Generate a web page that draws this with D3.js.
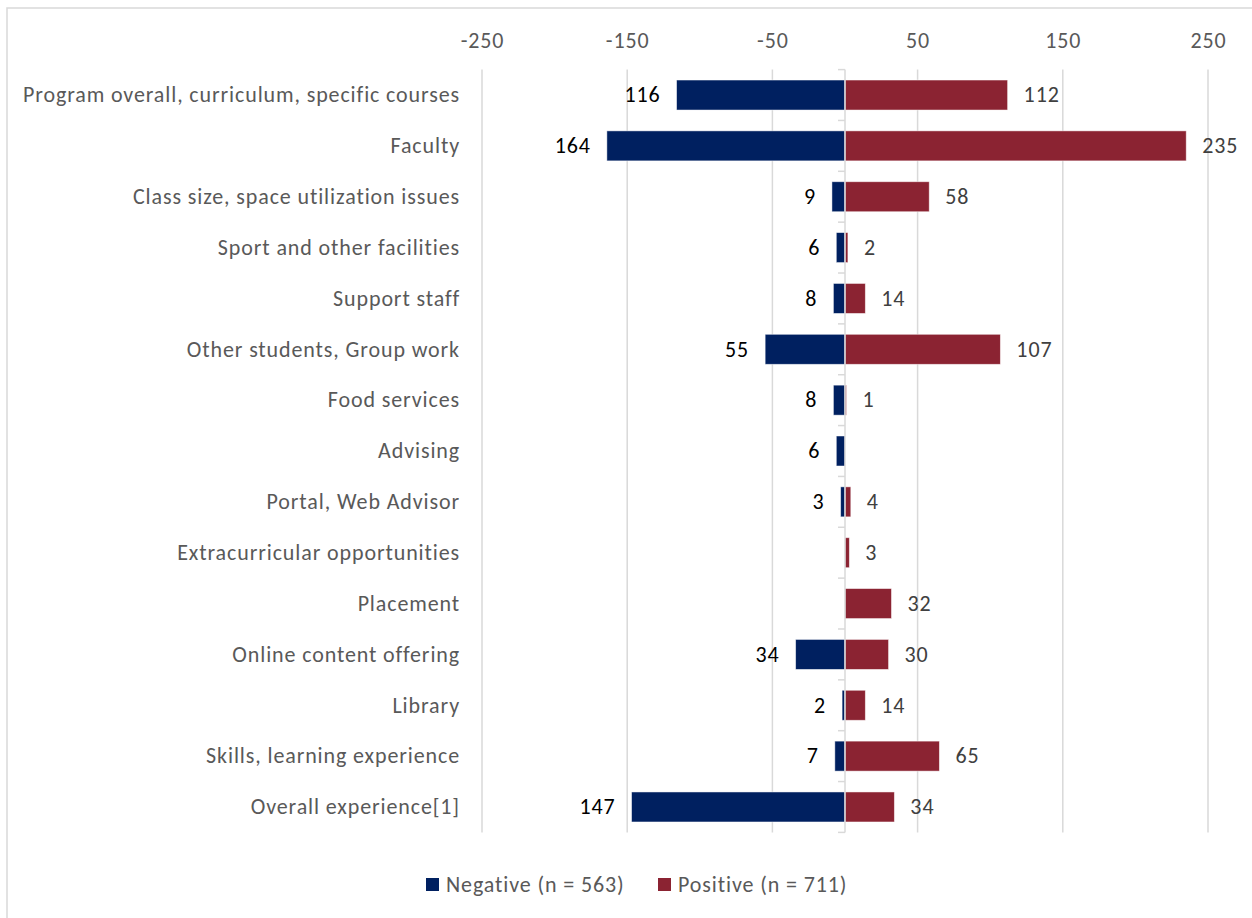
<!DOCTYPE html>
<html>
<head>
<meta charset="utf-8">
<script src="https://cdn.jsdelivr.net/npm/d3@7"></script>
<style>
  html, body { margin: 0; padding: 0; background: #fff; }
  svg { display: block; font-family: Carlito, Lato, "Open Sans", sans-serif; }
  .lbl { letter-spacing: 0.88px; }
</style>
</head>
<body>
<svg id="chart" width="1252" height="918"></svg>
<script>
// Comment themes by category: counts of negative and positive remarks
const categories = [
  "Program overall, curriculum, specific courses",
  "Faculty",
  "Class size, space utilization issues",
  "Sport and other facilities",
  "Support staff",
  "Other students, Group work",
  "Food services",
  "Advising",
  "Portal, Web Advisor",
  "Extracurricular opportunities",
  "Placement",
  "Online content offering",
  "Library",
  "Skills, learning experience",
  "Overall experience[1]"
];
const negativeCounts = [116, 164, 9, 6, 8, 55, 8, 6, 3, null, null, 34, 2, 7, 147];
const positiveCounts = [112, 235, 58, 2, 14, 107, 1, null, 4, 3, 32, 30, 14, 65, 34];
const tickValues = [-250, -150, -50, 50, 150, 250];
const seriesNames = ["Negative (n = 563)", "Positive (n = 711)"];
const seriesColors = ["#002060", "#8B2332"];

const FONT = 22;
const svg = d3.select("#chart");

// outer chart frame
svg.append("rect")
  .attr("x", 7).attr("y", 8)
  .attr("width", 1300).attr("height", 960)
  .attr("fill", "#fff")
  .attr("stroke", "#d9d9d9").attr("stroke-width", 1.5);

const x = d3.scaleLinear().domain([-250, 250]).range([482, 1208]);
const plotTop = 69.6, plotBottom = 832.4;
const y = d3.scaleBand().domain(categories).range([plotTop, plotBottom]).paddingInner(0.41).paddingOuter(0.205);

// vertical gridlines
svg.append("g").selectAll("line")
  .data(tickValues)
  .join("line")
  .attr("x1", d => x(d)).attr("x2", d => x(d))
  .attr("y1", plotTop).attr("y2", plotBottom)
  .attr("stroke", "#d9d9d9").attr("stroke-width", 1.5);

// top axis labels
const axisTop = d3.axisTop(x).tickValues(tickValues).tickSize(0).tickPadding(0)
  .tickFormat(d => String(d));
const gAxis = svg.append("g").attr("transform", "translate(0,47.5)").call(axisTop);
gAxis.select(".domain").remove();
gAxis.selectAll("text")
  .attr("class", "lbl")
  .attr("fill", "#595959")
  .attr("font-size", FONT)
  .attr("font-family", "Carlito, Lato, 'Open Sans', sans-serif")
  .attr("dy", 0);

// bars
const rows = categories.map((c, i) => ({ cat: c, neg: negativeCounts[i], pos: positiveCounts[i] }));

svg.append("g").selectAll("rect")
  .data(rows.filter(d => d.neg != null))
  .join("rect")
  .attr("x", d => x(-d.neg))
  .attr("width", d => x(0) - x(-d.neg))
  .attr("y", d => y(d.cat))
  .attr("height", y.bandwidth())
  .attr("fill", seriesColors[0])
  .attr("stroke", "#ffffff").attr("stroke-opacity", 0.6).attr("stroke-width", 0.8);

svg.append("g").selectAll("rect")
  .data(rows.filter(d => d.pos != null))
  .join("rect")
  .attr("x", x(0))
  .attr("width", d => x(d.pos) - x(0))
  .attr("y", d => y(d.cat))
  .attr("height", y.bandwidth())
  .attr("fill", seriesColors[1])
  .attr("stroke", "#ffffff").attr("stroke-opacity", 0.6).attr("stroke-width", 0.8);

// vertical category axis at zero with tick marks between categories
const step = y.step();
const boundaries = d3.range(categories.length + 1).map(i => plotTop + i * step);
const gZero = svg.append("g");
gZero.append("line")
  .attr("x1", x(0)).attr("x2", x(0))
  .attr("y1", plotTop).attr("y2", plotBottom)
  .attr("stroke", "#d9d9d9").attr("stroke-width", 1.5);
gZero.selectAll("line.tick")
  .data(boundaries)
  .join("line")
  .attr("class", "tick")
  .attr("x1", x(0) - 7).attr("x2", x(0))
  .attr("y1", d => d).attr("y2", d => d)
  .attr("stroke", "#d9d9d9").attr("stroke-width", 1.5);

// category labels
svg.append("g").selectAll("text")
  .data(categories)
  .join("text")
  .attr("class", "lbl")
  .attr("x", 460)
  .attr("y", d => y(d) + y.bandwidth() / 2)
  .attr("dy", "0.33em")
  .attr("text-anchor", "end")
  .attr("fill", "#595959")
  .attr("font-size", FONT)
  .text(d => d);

// value labels
svg.append("g").selectAll("text")
  .data(rows.filter(d => d.neg != null))
  .join("text")
  .attr("class", "lbl")
  .attr("x", d => x(-d.neg) - 16)
  .attr("y", d => y(d.cat) + y.bandwidth() / 2)
  .attr("dy", "0.33em")
  .attr("text-anchor", "end")
  .attr("fill", "#000000")
  .attr("font-size", FONT)
  .text(d => d.neg);

svg.append("g").selectAll("text")
  .data(rows.filter(d => d.pos != null))
  .join("text")
  .attr("class", "lbl")
  .attr("x", d => x(d.pos) + 16)
  .attr("y", d => y(d.cat) + y.bandwidth() / 2)
  .attr("dy", "0.33em")
  .attr("text-anchor", "start")
  .attr("fill", "#404040")
  .attr("font-size", FONT)
  .text(d => d.pos);

// legend
const legendItems = [
  { name: seriesNames[0], color: seriesColors[0], x: 426 },
  { name: seriesNames[1], color: seriesColors[1], x: 658 }
];
const gLegend = svg.append("g").selectAll("g")
  .data(legendItems)
  .join("g")
  .attr("transform", d => `translate(${d.x},885)`);
gLegend.append("rect")
  .attr("x", 0).attr("y", -7)
  .attr("width", 13).attr("height", 13)
  .attr("fill", d => d.color);
gLegend.append("text")
  .attr("class", "lbl")
  .attr("x", 20).attr("y", 0)
  .attr("dy", "0.33em")
  .attr("fill", "#595959")
  .attr("font-size", FONT)
  .text(d => d.name);
</script>
</body>
</html>
